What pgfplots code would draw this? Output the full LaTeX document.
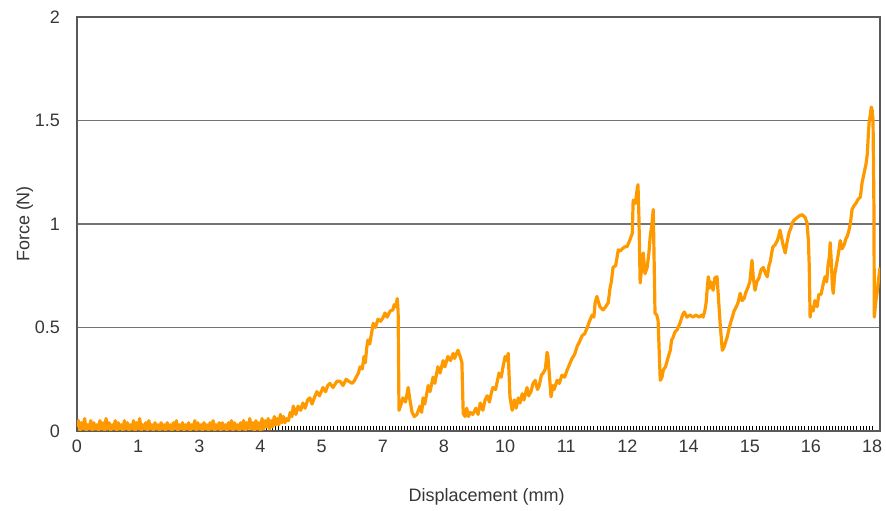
\documentclass[border=0pt]{standalone}
\usepackage{pgfplots}
\pgfplotsset{compat=1.18}
\usepackage{fontspec}
\setmainfont{Liberation Sans}
\definecolor{curve}{RGB}{255,153,0}
\definecolor{txt}{RGB}{55,55,55}
\begin{document}
\begin{tikzpicture}
\begin{axis}[
  name=ax,
  scale only axis, width=401.5pt, height=207pt,
  xmin=0, xmax=18.38, ymin=0, ymax=2,
  xtick={0,1.4,2.8,4.2,5.6,7.0,8.4,9.8,11.2,12.6,14.0,15.4,16.8,18.2},
  xticklabels={0,1,3,4,5,7,8,10,11,12,14,15,16,18},
  ytick={0,0.5,1,1.5,2},
  yticklabels={0,0.5,1,1.5,2},
  minor x tick num=19,
  tick align=inside, xtick pos=bottom, ytick pos=left,
  major tick length=2.5pt, minor tick length=2.5pt,
  ytick style={draw=none},
  xtick style={black, line width=0.4pt},
  minor tick style={black, line width=0.4pt},
  ymajorgrids, grid style={black!55, line width=0.6pt},
  axis line style={black!65, line width=0.7pt},
  tick label style={font=\fontsize{9}{10}\selectfont, text=txt},
  yticklabel style={xshift=-5pt},
  xticklabel style={yshift=-1pt},
  label style={font=\fontsize{9}{10}\selectfont, text=txt},
  xlabel={Displacement (mm)},
  ylabel={Force (N)},
  xlabel style={at={(axis description cs:0.51,0)}, anchor=center, yshift=-33pt},
  ylabel style={at={(axis description cs:-0.065,0.5)}, anchor=center, rotate=0},
  /pgf/number format/assume math mode=true,
]
\addplot[curve, line width=1.6pt, line join=round] coordinates {
(0.000,0.02)(0.035,0.05)(0.070,0.00)(0.105,0.04)(0.140,0.01)(0.175,0.06)(0.210,0.00)(0.245,0.03)
(0.280,0.01)(0.315,0.05)(0.350,0.00)(0.385,0.04)(0.420,0.01)(0.455,0.03)(0.490,0.00)(0.525,0.05)
(0.560,0.01)(0.595,0.04)(0.630,0.00)(0.665,0.06)(0.700,0.01)(0.735,0.04)(0.770,0.00)(0.805,0.03)
(0.840,0.01)(0.875,0.05)(0.910,0.00)(0.945,0.04)(0.980,0.01)(1.015,0.03)(1.050,0.00)(1.085,0.05)
(1.120,0.01)(1.155,0.04)(1.190,0.00)(1.225,0.03)(1.260,0.01)(1.295,0.05)(1.330,0.00)(1.365,0.04)
(1.400,0.01)(1.435,0.06)(1.470,0.00)(1.505,0.03)(1.540,0.01)(1.575,0.04)(1.610,0.00)(1.645,0.05)
(1.680,0.01)(1.715,0.03)(1.750,0.00)(1.785,0.04)(1.820,0.01)(1.855,0.03)(1.890,0.00)(1.925,0.04)
(1.960,0.01)(1.995,0.03)(2.030,0.00)(2.065,0.04)(2.100,0.01)(2.135,0.03)(2.170,0.00)(2.205,0.04)
(2.240,0.01)(2.275,0.05)(2.310,0.00)(2.345,0.03)(2.380,0.01)(2.415,0.04)(2.450,0.00)(2.485,0.03)
(2.520,0.01)(2.555,0.04)(2.590,0.00)(2.625,0.03)(2.660,0.01)(2.695,0.05)(2.730,0.00)(2.765,0.04)
(2.800,0.01)(2.835,0.03)(2.870,0.00)(2.905,0.04)(2.940,0.01)(2.975,0.03)(3.010,0.00)(3.045,0.04)
(3.080,0.01)(3.115,0.05)(3.150,0.00)(3.185,0.03)(3.220,0.01)(3.255,0.04)(3.290,0.00)(3.325,0.04)
(3.360,0.01)(3.395,0.03)(3.430,0.00)(3.465,0.04)(3.500,0.01)(3.535,0.05)(3.570,0.00)(3.605,0.04)
(3.640,0.01)(3.675,0.03)(3.710,0.00)(3.745,0.04)(3.780,0.01)(3.815,0.05)(3.850,0.00)(3.885,0.04)
(3.920,0.01)(3.955,0.06)(3.990,0.01)(4.025,0.04)(4.060,0.00)(4.095,0.05)(4.130,0.01)(4.165,0.04)
(4.200,0.00)(4.235,0.06)(4.270,0.01)(4.305,0.05)(4.340,0.02)(4.375,0.06)(4.410,0.01)(4.445,0.05)
(4.480,0.02)(4.515,0.07)(4.550,0.03)(4.585,0.06)(4.620,0.03)(4.655,0.08)(4.690,0.04)(4.725,0.07)
(4.760,0.04)(4.800,0.06)(4.840,0.05)(4.88,0.09)(4.92,0.07)(4.95,0.12)(5.01,0.08)
(5.06,0.12)(5.12,0.10)(5.17,0.135)(5.22,0.11)(5.28,0.15)(5.33,0.16)(5.38,0.13)(5.45,0.17)
(5.49,0.19)(5.55,0.17)(5.63,0.21)(5.69,0.19)(5.74,0.22)(5.79,0.23)(5.86,0.21)(5.95,0.24)
(6.02,0.24)(6.09,0.22)(6.16,0.25)(6.22,0.24)(6.30,0.23)(6.34,0.24)(6.39,0.26)(6.44,0.28)
(6.48,0.31)(6.53,0.30)(6.57,0.36)(6.60,0.33)(6.63,0.40)(6.66,0.44)(6.70,0.42)(6.74,0.47)
(6.78,0.52)(6.83,0.50)(6.89,0.54)(6.95,0.53)(7.01,0.55)(7.05,0.57)(7.10,0.55)(7.12,0.56)
(7.17,0.58)(7.23,0.585)(7.26,0.61)(7.30,0.60)(7.33,0.64)(7.35,0.58)(7.37,0.10)(7.42,0.13)
(7.46,0.16)(7.52,0.14)(7.58,0.21)(7.62,0.15)(7.67,0.09)(7.72,0.07)(7.78,0.08)(7.85,0.12)
(7.89,0.09)(7.92,0.16)(7.96,0.13)(8.04,0.22)(8.08,0.19)(8.15,0.26)(8.19,0.23)(8.26,0.31)
(8.31,0.28)(8.38,0.34)(8.42,0.31)(8.49,0.36)(8.55,0.34)(8.61,0.375)(8.64,0.35)(8.72,0.39)
(8.77,0.36)(8.81,0.33)(8.84,0.085)(8.88,0.07)(8.92,0.11)(8.96,0.07)(9.00,0.09)(9.06,0.08)
(9.13,0.11)(9.18,0.08)(9.23,0.135)(9.29,0.10)(9.34,0.15)(9.39,0.17)(9.44,0.14)(9.48,0.18)
(9.52,0.21)(9.58,0.20)(9.66,0.28)(9.71,0.26)(9.76,0.32)(9.80,0.36)(9.84,0.34)(9.87,0.375)
(9.91,0.165)(9.96,0.10)(10.01,0.15)(10.05,0.11)(10.10,0.16)(10.14,0.135)(10.19,0.18)(10.23,0.15)
(10.30,0.21)(10.34,0.17)(10.39,0.19)(10.44,0.23)(10.49,0.245)(10.54,0.20)(10.58,0.22)(10.63,0.27)
(10.67,0.28)(10.72,0.30)(10.76,0.38)(10.78,0.36)(10.82,0.25)(10.85,0.165)(10.89,0.22)(10.92,0.20)
(10.99,0.245)(11.04,0.23)(11.10,0.27)(11.16,0.26)(11.22,0.295)(11.27,0.32)(11.33,0.35)(11.39,0.37)
(11.45,0.41)(11.50,0.43)(11.56,0.46)(11.62,0.47)(11.68,0.50)(11.73,0.53)(11.79,0.56)(11.83,0.55)
(11.86,0.62)(11.90,0.65)(11.94,0.62)(11.97,0.60)(12.04,0.585)(12.10,0.60)(12.16,0.62)(12.20,0.69)
(12.23,0.72)(12.27,0.79)(12.33,0.80)(12.39,0.875)(12.44,0.87)(12.48,0.88)(12.54,0.89)(12.59,0.89)
(12.65,0.92)(12.71,0.955)(12.73,1.115)(12.78,1.10)(12.82,1.165)(12.84,1.19)(12.86,1.05)(12.89,0.715)
(12.93,0.80)(12.96,0.86)(13.00,0.76)(13.05,0.79)(13.09,0.86)(13.12,0.94)(13.16,1.00)(13.19,1.07)
(13.23,0.57)(13.27,0.56)(13.30,0.535)(13.35,0.245)(13.39,0.26)(13.42,0.295)(13.47,0.31)(13.51,0.34)
(13.55,0.37)(13.58,0.39)(13.61,0.44)(13.64,0.45)(13.69,0.48)(13.74,0.49)(13.80,0.52)(13.86,0.56)
(13.90,0.575)(13.96,0.55)(14.03,0.56)(14.10,0.55)(14.17,0.56)(14.24,0.55)(14.30,0.56)(14.33,0.55)
(14.37,0.58)(14.40,0.62)(14.43,0.70)(14.45,0.745)(14.48,0.69)(14.51,0.72)(14.56,0.68)(14.60,0.74)
(14.65,0.745)(14.68,0.65)(14.72,0.52)(14.77,0.39)(14.80,0.40)(14.84,0.425)(14.89,0.46)(14.93,0.50)
(14.97,0.53)(15.00,0.55)(15.04,0.58)(15.09,0.60)(15.13,0.62)(15.18,0.665)(15.22,0.63)(15.27,0.64)
(15.31,0.67)(15.36,0.695)(15.40,0.72)(15.45,0.825)(15.48,0.74)(15.52,0.68)(15.56,0.72)(15.61,0.74)
(15.66,0.78)(15.71,0.79)(15.76,0.76)(15.80,0.745)(15.84,0.80)(15.87,0.82)(15.90,0.86)(15.93,0.89)
(15.98,0.90)(16.03,0.92)(16.06,0.94)(16.09,0.97)(16.13,0.93)(16.16,0.90)(16.21,0.86)(16.25,0.91)
(16.30,0.96)(16.34,0.98)(16.37,1.005)(16.42,1.02)(16.48,1.03)(16.54,1.04)(16.60,1.045)(16.67,1.03)
(16.71,1.005)(16.74,0.92)(16.76,0.80)(16.78,0.55)(16.81,0.60)(16.85,0.58)(16.89,0.63)(16.94,0.60)
(16.98,0.66)(17.03,0.66)(17.08,0.71)(17.12,0.745)(17.16,0.72)(17.19,0.80)(17.22,0.84)(17.24,0.91)
(17.27,0.80)(17.29,0.70)(17.31,0.665)(17.34,0.75)(17.38,0.80)(17.43,0.86)(17.47,0.92)(17.51,0.88)
(17.56,0.90)(17.60,0.93)(17.63,0.94)(17.67,0.97)(17.70,1.00)(17.74,1.07)(17.79,1.09)(17.83,1.10)
(17.88,1.12)(17.93,1.13)(17.97,1.20)(18.02,1.25)(18.06,1.29)(18.09,1.34)(18.11,1.42)(18.13,1.49)
(18.16,1.53)(18.18,1.565)(18.20,1.55)(18.22,1.50)(18.24,1.10)(18.25,0.55)(18.28,0.62)(18.32,0.68)
(18.35,0.74)(18.38,0.79)
};
\end{axis}
\pgfresetboundingbox
\path ([xshift=-38.5pt,yshift=-40pt]ax.south west) rectangle ([xshift=3pt,yshift=8.5pt]ax.north east);
\end{tikzpicture}
\end{document}
